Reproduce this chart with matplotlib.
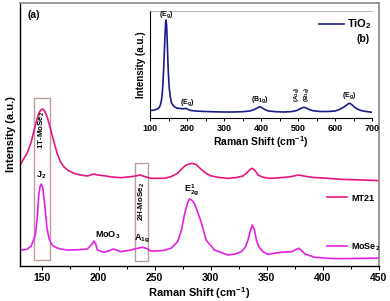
import matplotlib
matplotlib.use("Agg")
import matplotlib.pyplot as plt
from matplotlib.patches import Rectangle
from matplotlib.ticker import MultipleLocator

plt.rcParams['font.family'] = ['Liberation Sans', 'DejaVu Sans']
plt.rcParams['font.weight'] = 'bold'
plt.rcParams['mathtext.fontset'] = 'custom'
plt.rcParams['mathtext.rm'] = 'Liberation Sans:bold'
plt.rcParams['mathtext.it'] = 'Liberation Sans:bold'
plt.rcParams['mathtext.bf'] = 'Liberation Sans:bold'
plt.rcParams['mathtext.default'] = 'rm'

# ---- data ----
mose2_x = [130, 136, 140, 143.7, 145.5, 146.7, 148, 149, 150.3, 151.8, 153, 154, 156, 158.6, 162, 166, 172, 178, 185,
           190, 193.5, 195.9, 197.5, 199, 204.8, 209, 213, 216, 219.8, 228.7, 234, 239.2, 243, 246.6, 252, 258.6, 265,
           270.5, 274, 276.5, 279, 281, 283, 285.4, 288, 291.4, 295.9, 303.3, 315.3, 322, 327.2, 331, 333.2, 335.5,
           337.1, 339, 340.7, 343, 346.6, 351.1, 360, 366, 372, 376, 378.5, 381, 383.9, 392.8, 410.7, 430, 452]
mose2_y = [16, 16.5, 20, 31, 50, 71, 80, 82, 78, 64, 50, 38, 27, 21, 18.5, 17, 16, 16, 16.5,
           17, 21, 25, 22, 16, 13.7, 15, 17, 16, 14.3, 16, 17.5, 18.7, 17.5, 15, 15, 15.7, 18,
           24.3, 36, 51, 62, 67, 66, 62.7, 55, 44.3, 26, 16, 11, 12, 14.3, 19, 26, 36,
           41, 36, 26, 19, 14.3, 11.7, 13.3, 14, 14.3, 16.5, 17.7, 15.5, 12, 8.7, 7.3, 7.5, 8]

mt21_x = [130, 136.3, 140, 142.2, 144.5, 146.7, 148.5, 150.2, 152, 154.2, 156.5, 158.6, 161, 163.1, 166, 169, 173,
          178, 184, 190, 193, 195.9, 199, 204.8, 212, 219.8, 228.7, 233, 237.1, 241, 246.6, 258.6, 265, 270.5, 274,
          278, 283, 287, 291.4, 296, 300.4, 308, 315.3, 322, 328.7, 332, 335, 337.1, 339.5, 342.2, 346, 351.1, 358,
          366, 372, 378, 384, 390, 400, 416.7, 435, 452]
mt21_y = [101, 112.7, 124, 134.3, 144, 152.7, 156, 157, 155, 149.3, 140, 131, 121, 112.7, 104.5, 99.3, 95.5,
          92.7, 91, 90, 91, 92, 91, 90.3, 89, 88.3, 89.3, 90, 91, 89.5, 87.7, 87.7, 89.5, 92.7, 97,
          101, 102.7, 101.5, 96.7, 92.5, 90, 88.5, 87.7, 88.3, 90, 93, 96.5, 97.7, 95.5, 91, 89, 87.7, 88,
          88.7, 89.5, 91, 89.8, 88.7, 88, 86.7, 86, 85.3]

tio2_x = [100, 110, 120, 125, 128, 131, 133, 135, 137, 139, 140.5, 142, 143.5, 145, 146.5, 148, 149.5, 152, 155,
          158, 165, 172, 180, 190, 197, 203, 210, 230, 250, 275, 300, 325, 350, 370, 382, 390, 396, 402, 410,
          420, 440, 460, 480, 495, 505, 512, 517, 522, 530, 540, 560, 580, 600, 612, 622, 630, 636, 640, 645,
          652, 660, 670, 680, 690, 700]
tio2_y = [7.5, 7.8, 9, 10.5, 13, 18, 24, 34, 50, 68, 82, 94, 98, 92, 78, 60, 46, 30, 21,
          15, 11.5, 10, 9.5, 9.3, 9.6, 8.5, 7.5, 6.8, 6.5, 6.2, 6, 6, 6.3, 7, 8.5, 10, 11.3, 10.5, 8.5,
          7, 6.3, 6, 6.3, 7.3, 9, 10.3, 10.7, 10, 8.5, 7.3, 6.5, 6.5, 7, 8.5, 10.5, 12.5, 14.3, 14.7, 13.5,
          11, 9, 7.5, 6.8, 6.2, 5.7]

main_xticks = [150, 200, 250, 300, 350, 400, 450]
inset_xticks = [100, 200, 300, 400, 500, 600, 700]

C_MT21 = '#E5177F'
C_MOSE2 = '#E31FE3'
C_TIO2 = '#1B1B8A'
C_BOX = '#BF9A9A'

fig = plt.figure(figsize=(3.9, 3.01), dpi=100)
ax = fig.add_axes([20/390, 1-266/301, 359/390, 263/301])
ax.plot(mt21_x, mt21_y, color=C_MT21, lw=1.2, label='MT21')
ax.plot(mose2_x, mose2_y, color=C_MOSE2, lw=1.2, label='MoSe$_{2}$')
ax.set_xlim(130, 450)
ax.set_ylim(0, 263)
ax.set_yticks([])
ax.set_xticks(main_xticks)
ax.xaxis.set_minor_locator(MultipleLocator(25))
ax.tick_params(axis='x', which='major', length=3, width=0.8, labelsize=7.5, pad=2)
ax.tick_params(axis='x', which='minor', length=2.5, width=0.8)
for lab in ax.get_xticklabels():
    lab.set_fontweight('bold')
ax.set_xlabel('Raman Shift (cm$^{-1}$)', fontsize=8, fontweight='bold', labelpad=1.5)
ax.set_ylabel('Intensity (a.u.)', fontsize=8, fontweight='bold', labelpad=3)
for s in ['left', 'bottom']:
    ax.spines[s].set_linewidth(1.0)
for s in ['top', 'right']:
    ax.spines[s].set_color('#888888')
    ax.spines[s].set_linewidth(1.2)

ax.add_patch(Rectangle((142.2, 6), 14.3, 161.7, fill=False, ec=C_BOX, lw=1.0))
ax.add_patch(Rectangle((232.6, 5), 11.4, 98.3, fill=False, ec=C_BOX, lw=1.0))

ax.text(149.3, 136, '1T-MoSe$_{2}$', rotation=90, ha='center', va='center', fontsize=5.8, fontweight='bold')
ax.text(148.5, 91, 'J$_{2}$', ha='center', va='center', fontsize=6.5, fontweight='bold')
ax.text(238.3, 65, '2H-MoSe$_{2}$', rotation=90, ha='center', va='center', fontsize=5.8, fontweight='bold')
ax.text(238.5, 27, 'A$_{1g}$', ha='center', va='center', fontsize=6.5, fontweight='bold')
ax.text(208.6, 31, 'MoO$_{3}$', ha='center', va='center', fontsize=6.5, fontweight='bold')
ax.text(282.5, 76, 'E$^{1}_{2g}$', ha='center', va='center', fontsize=6.5, fontweight='bold')
ax.text(0.022, 0.955, '(a)', transform=ax.transAxes, ha='left', va='center', fontsize=7.5, fontweight='bold')

leg = ax.legend(loc='upper left', bbox_to_anchor=(302/359, 1-(189-3)/263), frameon=False,
                fontsize=6.5, handlelength=2.3, labelspacing=4.3, handletextpad=0.4, borderpad=0)
for t in leg.get_texts():
    t.set_fontweight('bold')

# ---- inset ----
axi = fig.add_axes([150/390, 1-118/301, 222/390, 107/301])
axi.plot(tio2_x, tio2_y, color=C_TIO2, lw=1.2, label='TiO$_{2}$')
axi.set_xlim(100, 700)
axi.set_ylim(0, 107)
axi.set_yticks([])
axi.set_xticks(inset_xticks)
axi.xaxis.set_minor_locator(MultipleLocator(50))
axi.tick_params(axis='x', which='major', length=2.5, width=0.7, labelsize=6.5, pad=1.5)
axi.tick_params(axis='x', which='minor', length=2, width=0.7)
for lab in axi.get_xticklabels():
    lab.set_fontweight('bold')
axi.set_xlabel('Raman Shift (cm$^{-1}$)', fontsize=7.5, fontweight='bold', labelpad=1.5)
axi.set_ylabel('Intensity (a.u.)', fontsize=7, fontweight='bold', labelpad=3)
axi.spines['right'].set_visible(False)
axi.spines['top'].set_linewidth(0.5)
axi.spines['top'].set_color('#999999')
axi.patch.set_alpha(0)

axi.text(143, 103, '(E$_{g}$)', ha='center', va='center', fontsize=5, fontweight='bold')
axi.text(200, 15, '(E$_{g}$)', ha='center', va='center', fontsize=5, fontweight='bold')
axi.text(396, 18, '(B$_{1g}$)', ha='center', va='center', fontsize=5, fontweight='bold')
axi.text(499, 24, '(A$_{1g}$)', rotation=90, ha='center', va='center', fontsize=4.5, fontweight='bold')
axi.text(528, 24, '(B$_{1g}$)', rotation=90, ha='center', va='center', fontsize=4.5, fontweight='bold')
axi.text(638, 22, '(E$_{g}$)', ha='center', va='center', fontsize=5, fontweight='bold')

legi = axi.legend(loc='upper right', bbox_to_anchor=(1.03, 1.0), frameon=False, fontsize=8,
                  handlelength=2.2, handletextpad=0.3, borderpad=0.1)
for t in legi.get_texts():
    t.set_fontweight('bold')
axi.text(0.99, 0.74, '(b)', transform=axi.transAxes, ha='right', va='center', fontsize=7.5, fontweight='bold')

fig.savefig('out.png', dpi=100)
